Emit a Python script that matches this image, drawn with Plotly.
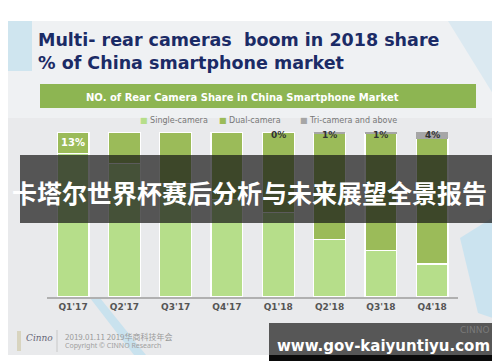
import plotly.graph_objects as go

# ---- data ----
quarters = ["Q1'17", "Q2'17", "Q3'17", "Q4'17", "Q1'18", "Q2'18", "Q3'18", "Q4'18"]
single_cam = [87, 81, 69, 59, 51, 35, 28, 20]
dual_cam = [13, 19, 31, 41, 49, 64, 71, 76]
tri_cam = [0, 0, 0, 0, 0, 1, 1, 4]
tri_labels = ["", "", "", "", "0%", "1%", "1%", "4%"]
dual_labels = ["13%", "", "", "", "", "", "", ""]

title_lines = ["Multi- rear cameras  boom in 2018 share", "% of China smartphone market"]
header_text = "NO. of Rear Camera Share in China Smartphone Market"
series_names = ["Single-camera", "Dual-camera", "Tri-camera and above"]
banner_text = "卡塔尔世界杯赛后分析与未来展望全景报告"
url_text = "www.gov-kaiyuntiyu.com"
footer_lines = ["2019.01.11 2019华商科技年会", "Copyright © CINNO Research"]

W, H = 500, 362
C_SINGLE, C_DUAL, C_TRI = "#b6de8a", "#9bbb59", "#a6a6a6"


def fx(x):
    return x / W


def fy(y):
    return 1 - y / H


fig = go.Figure()
fig.add_trace(go.Bar(x=quarters, y=single_cam, name=series_names[0], marker=dict(color=C_SINGLE, line=dict(color="white", width=1.2))))
fig.add_trace(go.Bar(x=quarters, y=dual_cam, name=series_names[1], text=dual_labels, textposition="inside",
                     insidetextanchor="middle", textangle=0,
                     textfont=dict(color="white", size=10, family="DejaVu Sans", weight="bold"),
                     marker=dict(color=C_DUAL, line=dict(color="white", width=1.2))))
fig.add_trace(go.Bar(x=quarters, y=tri_cam, name=series_names[2], marker=dict(color=C_TRI, line=dict(color="white", width=0))))

shapes = []
annotations = []

# background picture area
shapes.append(dict(type="rect", xref="paper", yref="paper", x0=0, x1=1, y0=fy(347), y1=fy(13),
                   fillcolor="#e9eaec", line=dict(width=0), layer="below"))
shapes.append(dict(type="rect", xref="paper", yref="paper", x0=0, x1=1, y0=fy(110), y1=fy(13),
                   fillcolor="#eff1f3", line=dict(width=0), layer="below"))
# decorative light-blue shapes
shapes.append(dict(type="rect", xref="paper", yref="paper", x0=0, x1=fx(24), y0=fy(63), y1=fy(13),
                   fillcolor="#cfe5ef", line=dict(width=0), layer="below"))
shapes.append(dict(type="path", xref="paper", yref="paper",
                   path=f"M {fx(82)} {fy(290)} L {fx(92)} {fy(290)} L {fx(138)} {fy(347)} L {fx(126)} {fy(347)} Z",
                   fillcolor="#c9e2ee", line=dict(width=0), layer="below"))
shapes.append(dict(type="path", xref="paper", yref="paper",
                   path=f"M {fx(452)} {fy(230)} L {fx(500)} {fy(200)} L {fx(500)} {fy(315)} L {fx(470)} {fy(305)} Z",
                   fillcolor="#cbe3ef", line=dict(width=0), layer="below"))
shapes.append(dict(type="path", xref="paper", yref="paper",
                   path=f"M {fx(440)} {fy(13)} L {fx(500)} {fy(13)} L {fx(500)} {fy(110)} Z",
                   fillcolor="#dbe9f1", line=dict(width=0), layer="below"))

# green header bar
shapes.append(dict(type="rect", xref="paper", yref="paper", x0=fx(32), x1=fx(468), y0=fy(100), y1=fy(76),
                   fillcolor="#8db552", line=dict(width=0), layer="below"))

# title
for i, t in enumerate(title_lines):
    annotations.append(dict(text=f"<b>{t}</b>", xref="paper", yref="paper", x=fx(28), y=fy(32 + 23 * i),
                            xanchor="left", yanchor="middle", showarrow=False,
                            font=dict(family="DejaVu Sans", size=17.5, color="#1b2b66")))
annotations.append(dict(text=f"<b>{header_text}</b>", xref="paper", yref="paper", x=fx(234), y=fy(89),
                        xanchor="center", yanchor="middle", showarrow=False,
                        font=dict(family="DejaVu Sans", size=10, color="white")))

# legend
leg_x = [130, 209, 290]
leg_c = [C_SINGLE, C_DUAL, C_TRI]
for name, x, c in zip(series_names, leg_x, leg_c):
    annotations.append(dict(text=f"<span style='color:{c}'>■</span> {name}", xref="paper", yref="paper",
                            x=fx(x), y=fy(112), xanchor="left", yanchor="middle", showarrow=False,
                            font=dict(family="DejaVu Sans", size=8, color="#777")))

# tri-camera labels
for q, lab in zip(quarters, tri_labels):
    if lab:
        annotations.append(dict(text=f"<b>{lab}</b>", x=q, y=98, xref="x", yref="y", showarrow=False,
                                yanchor="middle", font=dict(family="DejaVu Sans", size=9, color="#333")))

# footer
shapes.append(dict(type="line", xref="paper", yref="paper", x0=fx(49), x1=fx(49), y0=fy(344), y1=fy(322),
                   line=dict(color="#c8c8c8", width=1), layer="below"))
shapes.append(dict(type="rect", xref="paper", yref="paper", x0=fx(9), x1=fx(13), y0=fy(343), y1=fy(323),
                   fillcolor="#d8d4bf", line=dict(width=0), layer="below"))
annotations.append(dict(text="<i>Cinno</i>", xref="paper", yref="paper", x=fx(16), y=fy(330),
                        xanchor="left", yanchor="middle", showarrow=False,
                        font=dict(family="DejaVu Serif", size=9, color="#667")))
annotations.append(dict(text=footer_lines[0], xref="paper", yref="paper", x=fx(55), y=fy(328),
                        xanchor="left", yanchor="middle", showarrow=False,
                        font=dict(family="Noto Sans CJK SC", size=8, color="#9a9a9a")))
annotations.append(dict(text=footer_lines[1], xref="paper", yref="paper", x=fx(55), y=fy(337),
                        xanchor="left", yanchor="middle", showarrow=False,
                        font=dict(family="Noto Sans", size=7, color="#a0a0a0")))

# overlay banner
shapes.append(dict(type="rect", xref="paper", yref="paper", x0=fx(12), x1=fx(488), y0=fy(215), y1=fy(147),
                   fillcolor="rgba(22,22,22,0.70)", line=dict(width=0), layer="above"))
annotations.append(dict(text=f"<b>{banner_text}</b>", xref="paper", yref="paper", x=fx(241), y=fy(184),
                        xanchor="center", yanchor="middle", showarrow=False,
                        font=dict(family="Noto Sans CJK SC", size=25, color="white")))

# bottom url banner
shapes.append(dict(type="rect", xref="paper", yref="paper", x0=fx(490), x1=1, y0=fy(346), y1=fy(315),
                   fillcolor="#3db5e6", line=dict(width=0), layer="above"))
shapes.append(dict(type="rect", xref="paper", yref="paper", x0=fx(261), x1=fx(491), y0=fy(347), y1=fy(315),
                   fillcolor="#575757", line=dict(width=0), layer="above"))
shapes.append(dict(type="rect", xref="paper", yref="paper", x0=fx(261), x1=fx(491), y0=fy(353), y1=fy(347),
                   fillcolor="#0a0a0a", line=dict(width=0), layer="above"))
annotations.append(dict(text="CINNO", xref="paper", yref="paper", x=fx(484), y=fy(322),
                        xanchor="right", yanchor="middle", showarrow=False,
                        font=dict(family="DejaVu Sans", size=9, color="#7a7a7a")))
annotations.append(dict(text=f"<b>{url_text}</b>", xref="paper", yref="paper", x=fx(375), y=fy(338),
                        xanchor="center", yanchor="middle", showarrow=False,
                        font=dict(family="DejaVu Sans", size=15, color="white")))

fig.update_layout(
    width=W, height=H,
    margin=dict(l=0, r=0, t=0, b=0),
    barmode="stack", bargap=0.38,
    showlegend=False,
    paper_bgcolor="white", plot_bgcolor="rgba(0,0,0,0)",
    shapes=shapes, annotations=annotations,
    xaxis=dict(domain=[fx(39.4), fx(449.8)], showline=True, linecolor="#b0b0b0", linewidth=1.5,
               ticks="", showgrid=False, zeroline=False,
               tickfont=dict(family="DejaVu Sans", size=9, color="#555", weight="bold")),
    yaxis=dict(domain=[fy(289), fy(124)], range=[0, 100], visible=False, showgrid=False),
)

fig.write_html("out.html")
